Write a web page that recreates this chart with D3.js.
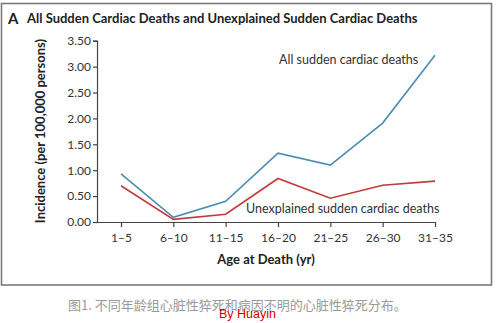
<!DOCTYPE html>
<html>
<head>
<meta charset="utf-8">
<script src="https://cdn.jsdelivr.net/npm/d3@7"></script>
<style>
  body { margin: 0; background: #fff; }
  svg { display: block; font-family: Lato, "Open Sans", sans-serif; }
</style>
</head>
<body>
<svg id="chart" width="500" height="323"></svg>
<script>
const ageGroups = ["1–5", "6–10", "11–15", "16–20", "21–25", "26–30", "31–35"];
const allDeaths = [0.93, 0.09, 0.40, 1.33, 1.10, 1.91, 3.22];
const unexplainedDeaths = [0.70, 0.05, 0.15, 0.84, 0.46, 0.71, 0.79];
const yTicks = [0, 0.5, 1, 1.5, 2, 2.5, 3, 3.5];

const svg = d3.select("#chart");

// frame
svg.append("rect")
  .attr("x", 1.5).attr("y", 3.5)
  .attr("width", 490).attr("height", 281.5)
  .attr("fill", "#fff")
  .attr("stroke", "#7a7a7a")
  .attr("stroke-width", 1.6);

svg.append("text")
  .attr("x", 8).attr("y", 24)
  .attr("font-size", "15px").attr("font-weight", "bold")
  .attr("fill", "#222")
  .text("A");

svg.append("text")
  .attr("x", 27).attr("y", 23)
  .attr("font-size", "13px").attr("font-weight", "bold")
  .attr("fill", "#222")
  .text("All Sudden Cardiac Deaths and Unexplained Sudden Cardiac Deaths");

const x = d3.scalePoint()
  .domain(ageGroups)
  .range([121, 435]);

const y = d3.scaleLinear()
  .domain([0, 3.5])
  .range([222, 40.7]);

const g = svg.append("g");

const yAxis = g.append("g")
  .attr("transform", "translate(97,0)")
  .call(d3.axisLeft(y).tickValues(yTicks).tickFormat(d3.format(".2f")).tickSize(4).tickPadding(2));

const xAxis = g.append("g")
  .attr("transform", "translate(0,222)")
  .call(d3.axisBottom(x).tickSize(5).tickPadding(6).tickSizeOuter(0));

xAxis.select(".domain").attr("d", "M97,0.5H435.5");

[yAxis, xAxis].forEach(a => {
  a.select(".domain").attr("stroke", "#444").attr("stroke-width", 1.2);
  a.selectAll(".tick line").attr("stroke", "#444").attr("stroke-width", 1.2);
  a.selectAll("text")
    .attr("font-family", "Lato, sans-serif")
    .attr("font-size", "12px")
    .attr("fill", "#333");
});

const line = d3.line()
  .x((d, i) => x(ageGroups[i]))
  .y(d => y(d));

g.append("path")
  .datum(allDeaths)
  .attr("d", line)
  .attr("fill", "none")
  .attr("stroke", "#4b8db4")
  .attr("stroke-width", 1.6);

g.append("path")
  .datum(unexplainedDeaths)
  .attr("d", line)
  .attr("fill", "none")
  .attr("stroke", "#c23a3c")
  .attr("stroke-width", 1.6);

svg.append("text")
  .attr("x", 279).attr("y", 64)
  .attr("font-size", "12.5px").attr("fill", "#333")
  .text("All sudden cardiac deaths");

svg.append("text")
  .attr("x", 246).attr("y", 213)
  .attr("font-size", "12.5px").attr("fill", "#333")
  .text("Unexplained sudden cardiac deaths");

svg.append("text")
  .attr("x", 266).attr("y", 264)
  .attr("text-anchor", "middle")
  .attr("font-size", "13px").attr("font-weight", "bold")
  .attr("fill", "#222")
  .text("Age at Death (yr)");

svg.append("text")
  .attr("transform", "translate(45,131) rotate(-90)")
  .attr("text-anchor", "middle")
  .attr("font-size", "13px").attr("font-weight", "bold")
  .attr("fill", "#222")
  .text("Incidence (per 100,000 persons)");

svg.append("text")
  .attr("x", 68).attr("y", 309.5)
  .attr("font-family", "'Noto Sans CJK SC', sans-serif")
  .attr("font-size", "13px").attr("fill", "#9a9a9a")
  .text("图1. 不同年龄组心脏性猝死和病因不明的心脏性猝死分布。");

svg.append("text")
  .attr("x", 219).attr("y", 318)
  .attr("font-family", "'Liberation Sans', Arial, sans-serif")
  .attr("font-size", "12.5px").attr("fill", "#d10000")
  .text("By Huayin");
</script>
</body>
</html>
